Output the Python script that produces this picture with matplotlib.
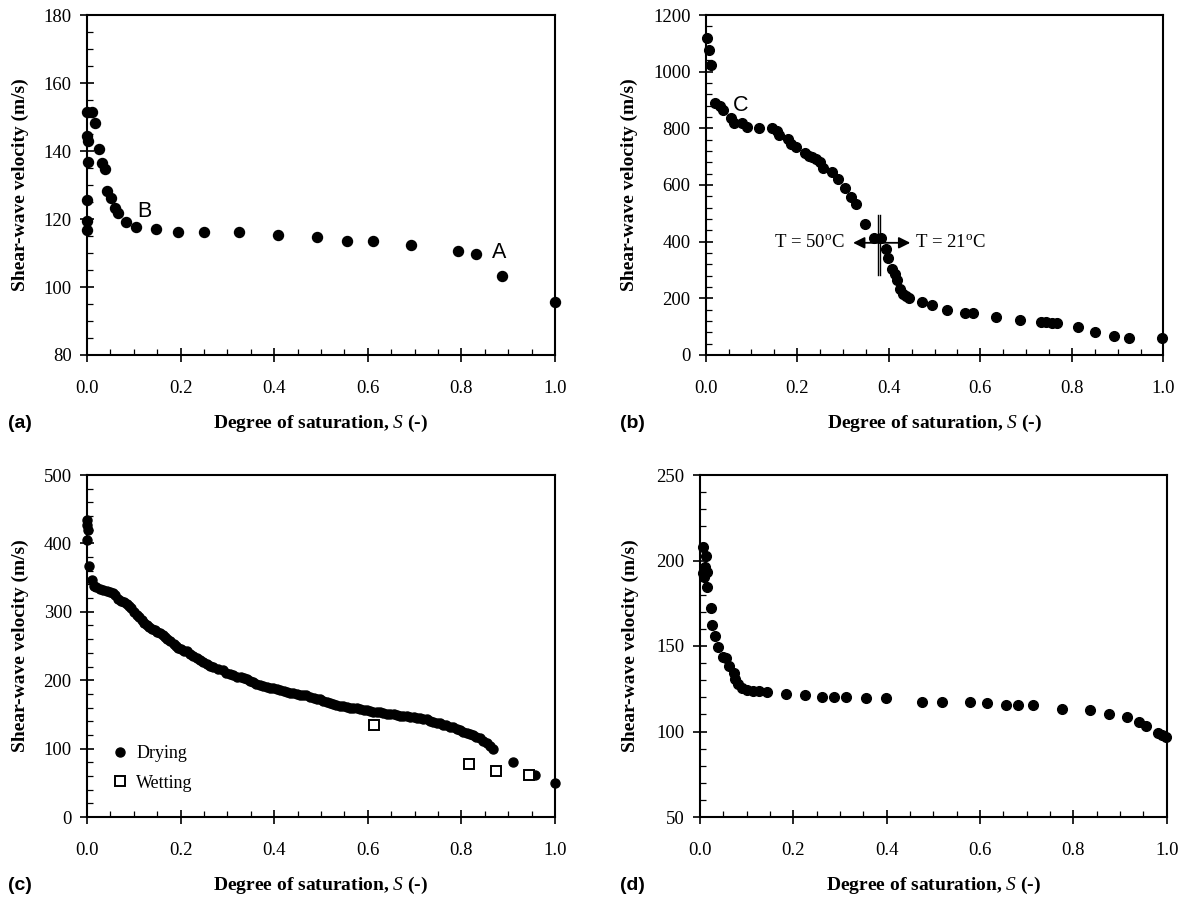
import matplotlib
matplotlib.use("Agg")
import matplotlib.pyplot as plt
from matplotlib.ticker import MultipleLocator, FormatStrFormatter

plt.rcParams['font.family'] = ['Liberation Serif', 'DejaVu Serif']
plt.rcParams['mathtext.fontset'] = 'custom'
plt.rcParams['mathtext.rm'] = 'Liberation Serif'
plt.rcParams['mathtext.it'] = 'Liberation Serif:italic'
plt.rcParams['mathtext.bf'] = 'Liberation Serif:bold'

# ---- (a) ----
sat_a = [0.000, 0.010, 0.018, 0.001, 0.002, 0.026, 0.002, 0.032, 0.038, 0.000,
         0.043, 0.052, 0.059, 0.067, 0.000, 0.000, 0.083, 0.104, 0.148, 0.195,
         0.250, 0.324, 0.408, 0.492, 0.556, 0.611, 0.692, 0.793, 0.831, 0.887, 1.000]
vs_a = [151.4, 151.4, 148.1, 144.4, 143.0, 140.6, 136.9, 136.4, 134.6, 125.6,
        128.3, 126.2, 123.1, 121.9, 119.5, 116.8, 119.0, 117.5, 117.1, 116.1,
        116.3, 116.3, 115.2, 114.7, 113.4, 113.4, 112.4, 110.7, 109.7, 103.1, 95.6]

# ---- (b) ----
sat_b = [0.002, 0.008, 0.012, 0.020, 0.031, 0.038, 0.055, 0.062, 0.079, 0.091,
         0.117, 0.145, 0.156, 0.161, 0.179, 0.186, 0.198, 0.218, 0.225, 0.233,
         0.242, 0.250, 0.256, 0.277, 0.288, 0.305, 0.318, 0.329, 0.349, 0.367,
         0.382, 0.394, 0.398, 0.406, 0.413, 0.417, 0.425, 0.430, 0.437, 0.444,
         0.472, 0.494, 0.527, 0.566, 0.583, 0.635, 0.686, 0.732, 0.743, 0.757,
         0.768, 0.814, 0.851, 0.893, 0.924, 0.998]
vs_b = [1120, 1076, 1025, 891, 879, 865, 835, 820, 820, 804,
        800, 800, 792, 776, 762, 745, 733, 712, 704, 700,
        692, 680, 659, 645, 620, 591, 559, 532, 462, 414,
        414, 373, 341, 302, 286, 265, 232, 215, 208, 202,
        186, 176, 159, 147, 147, 135, 124, 118, 118, 112,
        112, 100, 82, 67, 59, 61]

# ---- (c) drying ----
sat_c_dry = [0.000, 0.000, 0.002, 0.000, 0.005, 0.010, 0.015, 0.020, 0.027, 0.034,
             0.042, 0.050, 0.055, 0.060, 0.066, 0.072, 0.078, 0.085, 0.090, 0.095,
             0.100, 0.106, 0.111, 0.117, 0.122, 0.128, 0.133, 0.138, 0.145, 0.150,
             0.156, 0.162, 0.167, 0.172, 0.178, 0.185, 0.190, 0.195, 0.200, 0.207,
             0.213, 0.220, 0.227, 0.234, 0.241, 0.248, 0.256, 0.263, 0.270, 0.280,
             0.291, 0.298, 0.305, 0.313, 0.320, 0.328, 0.335, 0.341, 0.348, 0.355,
             0.362, 0.370, 0.377, 0.384, 0.391, 0.398, 0.405, 0.412, 0.420, 0.427,
             0.434, 0.441, 0.448, 0.455, 0.462, 0.469, 0.476, 0.484, 0.491, 0.498,
             0.505, 0.512, 0.519, 0.526, 0.533, 0.540, 0.548, 0.555, 0.562, 0.569,
             0.576, 0.583, 0.591, 0.598, 0.605, 0.612, 0.619, 0.626, 0.633, 0.641,
             0.648, 0.655, 0.662, 0.669, 0.676, 0.683, 0.690, 0.698, 0.705, 0.712,
             0.719, 0.726, 0.733, 0.740, 0.747, 0.754, 0.761, 0.768, 0.775, 0.783,
             0.790, 0.797, 0.804, 0.811, 0.818, 0.825, 0.832, 0.840, 0.847, 0.854,
             0.861, 0.868, 0.911, 0.957, 1.000]
vs_c_dry = [434, 427, 420, 405, 367, 346, 337, 336, 334, 332,
            331, 329, 327, 324, 319, 316, 314, 312, 308, 305,
            300, 296, 292, 288, 284, 280, 278, 275, 273, 271,
            269, 266, 263, 260, 257, 253, 250, 247, 245, 243,
            242, 239, 236, 232, 229, 226, 223, 221, 220, 217,
            215, 211, 209, 207, 205, 204, 203, 202, 199, 197,
            195, 193, 191, 190, 189, 188, 187, 186, 184, 183,
            182, 181, 180, 179, 178, 178, 176, 174, 173, 172,
            170, 168, 167, 165, 164, 163, 162, 161, 160, 160,
            159, 158, 157, 157, 155, 154, 154, 153, 152, 151,
            150, 150, 149, 148, 147, 147, 146, 146, 145, 145,
            144, 144, 141, 139, 138, 137, 135, 134, 132, 131,
            129, 127, 125, 123, 121, 120, 117, 115, 111, 108,
            104, 100, 81, 62, 50]

# ---- (c) wetting ----
sat_c_wet = [0.614, 0.817, 0.874, 0.945]
vs_c_wet = [134, 78, 67, 62]

# ---- (d) ----
sat_d = [0.007, 0.013, 0.011, 0.014, 0.006, 0.009, 0.016, 0.024, 0.026, 0.032,
         0.039, 0.049, 0.055, 0.062, 0.073, 0.075, 0.082, 0.091, 0.101, 0.114,
         0.126, 0.144, 0.184, 0.226, 0.261, 0.287, 0.312, 0.356, 0.399, 0.475,
         0.519, 0.579, 0.614, 0.655, 0.681, 0.714, 0.775, 0.836, 0.877, 0.914,
         0.941, 0.955, 0.981, 0.989, 0.999]
vs_d = [208.0, 202.6, 196.3, 193.4, 192.4, 190.1, 184.6, 172.3, 162.2, 155.8,
        149.5, 143.7, 142.7, 138.4, 134.5, 130.6, 128.0, 125.7, 124.5, 123.8,
        123.4, 123.2, 122.2, 121.2, 120.2, 120.2, 120.2, 119.3, 119.3, 117.5,
        117.5, 117.5, 116.5, 115.4, 115.4, 115.4, 113.4, 112.4, 110.5, 108.5,
        105.6, 103.1, 99.2, 98.2, 96.8]

XLABEL = r'Degree of saturation, $S$ (-)'
YLABEL = 'Shear-wave velocity (m/s)'
TICK_FS = 13.5
LABEL_FS = 14

W, H = 1184, 900
fig = plt.figure(figsize=(W / 100, H / 100), dpi=100)


def make_axes(left, top, right, bottom):
    return fig.add_axes([left / W, 1 - bottom / H, (right - left) / W, (bottom - top) / H])


def style(ax, ylim, ymajor, yminor, ylab_x, yfmt='%d'):
    ax.set_xlim(0, 1)
    ax.set_ylim(*ylim)
    ax.xaxis.set_major_locator(MultipleLocator(0.2))
    ax.xaxis.set_minor_locator(MultipleLocator(0.05))
    ax.xaxis.set_major_formatter(FormatStrFormatter('%.1f'))
    ax.yaxis.set_major_locator(MultipleLocator(ymajor))
    ax.yaxis.set_minor_locator(MultipleLocator(yminor))
    ax.yaxis.set_major_formatter(FormatStrFormatter(yfmt))
    for s in ax.spines.values():
        s.set_linewidth(1.5)
    ax.tick_params(axis='x', which='major', direction='inout', length=10, width=1.2,
                   pad=13, labelsize=TICK_FS)
    ax.tick_params(axis='y', which='major', direction='inout', length=10, width=1.2,
                   pad=6, labelsize=TICK_FS)
    ax.tick_params(which='minor', direction='in', length=4, width=0.9)
    ax.set_xlabel(XLABEL, fontsize=LABEL_FS, fontweight='bold')
    ax.xaxis.set_label_coords(0.5, -68 / 340)
    ax.xaxis.label.set_va('center')
    ax.set_ylabel(YLABEL, fontsize=LABEL_FS, fontweight='bold')
    ax.yaxis.set_label_coords(ylab_x, 0.5)
    ax.yaxis.label.set_va('center')


dot = dict(linestyle='none', marker='o', color='black', clip_on=False)

# (a)
ax_a = make_axes(87, 15, 555, 355)
ax_a.plot(sat_a, vs_a, markersize=7.2, **dot)
style(ax_a, (80, 180), 20, 5, -67 / 468)
ax_a.text(0.1235, 122.3, 'B', family='Liberation Sans', fontsize=15.5, ha='center', va='center')
ax_a.text(0.880, 110.2, 'A', family='Liberation Sans', fontsize=15.5, ha='center', va='center')

# (b)
ax_b = make_axes(705.7, 15, 1163.4, 355)
ax_b.plot(sat_b, vs_b, markersize=7.0, **dot)
style(ax_b, (0, 1200), 200, 40, -76 / 457.7)
ax_b.text(0.077, 879, 'C', family='Liberation Sans', fontsize=15.5, ha='center', va='center')
ax_b.plot([0.3766, 0.3766], [282, 494], color='black', lw=1.0)
ax_b.plot([0.3817, 0.3817], [282, 494], color='black', lw=1.0)
arrow = dict(arrowstyle='-|>', color='black', lw=1.3, mutation_scale=17, shrinkA=0, shrinkB=0)
ax_b.annotate('', xy=(0.322, 396), xytext=(0.379, 396), arrowprops=arrow)
ax_b.annotate('', xy=(0.447, 396), xytext=(0.379, 396), arrowprops=arrow)
ax_b.text(0.303, 396, r'T = 50$^{\mathrm{o}}$C', fontsize=13.5, ha='right', va='center')
ax_b.text(0.458, 396, r'T = 21$^{\mathrm{o}}$C', fontsize=13.5, ha='left', va='center')

# (c)
ax_c = make_axes(87, 475, 555, 817)
ax_c.plot(sat_c_dry, vs_c_dry, markersize=6.5, label='Drying', **dot)
ax_c.plot(sat_c_wet, vs_c_wet, linestyle='none', marker='s', markersize=6.5,
          markerfacecolor='white', markeredgecolor='black', markeredgewidth=1.4,
          clip_on=False, label='Wetting')
style(ax_c, (0, 500), 100, 20, -67 / 468)
ax_c.xaxis.set_label_coords(0.5, -68 / 342)
ax_c.legend(loc='lower left', bbox_to_anchor=(0.036, 0.053), frameon=False, fontsize=13,
            handlelength=1.0, handletextpad=0.4, labelspacing=0.7, borderaxespad=0,
            borderpad=0.4)

# (d)
ax_d = make_axes(700, 475, 1166.7, 817)
ax_d.plot(sat_d, vs_d, markersize=7.0, **dot)
style(ax_d, (50, 250), 50, 10, -70 / 466.7)
ax_d.xaxis.set_label_coords(0.5, -68 / 342)

# panel letters
for lab, px, py in [('(a)', 8, 423), ('(b)', 620, 423), ('(c)', 8, 885), ('(d)', 620, 885)]:
    fig.text(px / W, 1 - py / H, lab, family='Liberation Sans', fontweight='bold',
             fontsize=14, ha='left', va='center')

fig.savefig('out.png', dpi=100)
